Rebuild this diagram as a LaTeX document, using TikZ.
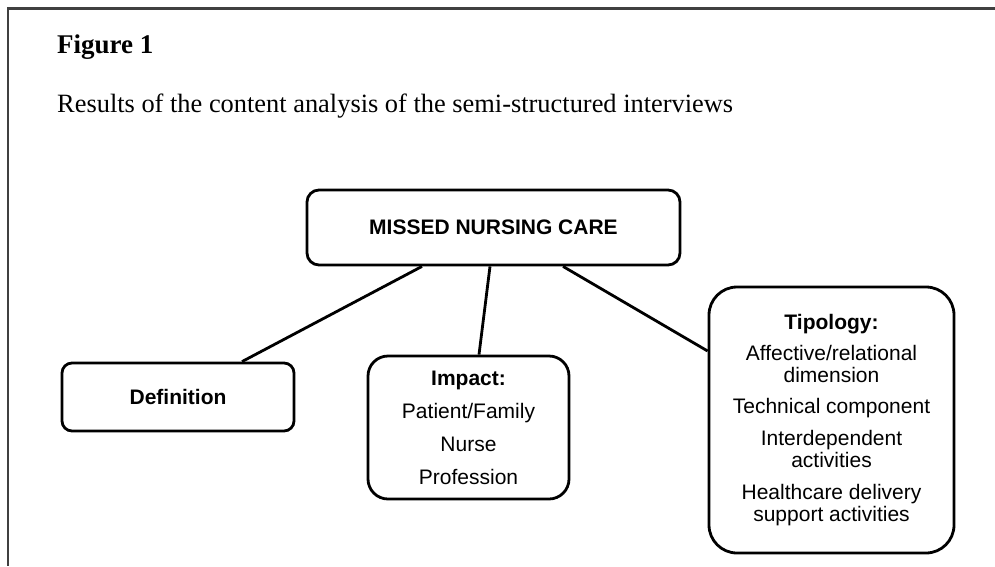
\documentclass[tikz,border=0pt]{standalone}
\usepackage{fontspec}
\setmainfont{Liberation Serif}
\newfontfamily\diagfont{Liberation Sans}
\begin{document}
\begin{tikzpicture}[x=1pt,y=-1pt,
  frameline/.style={line width=2.2pt,draw=black!75},
  box/.style={draw, line width=2.8pt, align=center, inner sep=0pt,
    font=\diagfont\fontsize{21}{22}\selectfont},
  link/.style={line width=2.8pt},
]
\useasboundingbox (0,0) rectangle (995,566);
% page frame: top and left rules only
\draw[frameline] (995,8.5) -- (8,8.5) -- (8,566);

% caption
\node[anchor=base west, inner sep=0pt, font=\fontsize{27}{30}\selectfont\bfseries] (fig) at (57,53) {Figure 1};
\node[anchor=base west, inner sep=0pt, font=\fontsize{26.4}{30}\selectfont] (cap) at (57,112)
  {Results of the content analysis of the semi-structured interviews};

% concept boxes
\node[box, rounded corners=12pt, minimum width=373pt, minimum height=75pt] (mnc) at (493.5,227.5)
  {\bfseries MISSED NURSING CARE};
\node[box, rounded corners=10pt, minimum width=232pt, minimum height=68pt] (def) at (178,397)
  {\bfseries Definition};
\node[box, rounded corners=20pt, minimum width=201pt, minimum height=143pt,
  font=\diagfont\fontsize{21}{33}\selectfont] (imp) at (468.5,427.5)
  {\bfseries Impact:\\ Patient/Family\\ Nurse\\ Profession};
\node[box, rounded corners=28pt, minimum width=245pt, minimum height=266pt] (tip) at (831.5,420)
  {\bfseries Tipology:\\[9pt] Affective/relational\\ dimension\\[9pt] Technical component\\[10pt]
   Interdependent\\ activities\\[10pt] Healthcare delivery\\ support activities};

% connectors
\draw[link] ([xshift=-71.5pt]mnc.south) -- ([xshift=64pt]def.north);
\draw[link] ([xshift=-3.5pt]mnc.south) -- ([xshift=10.5pt]imp.north);
\draw[link] ([xshift=69.5pt]mnc.south) -- ([yshift=69pt]tip.west);
\end{tikzpicture}
\end{document}
